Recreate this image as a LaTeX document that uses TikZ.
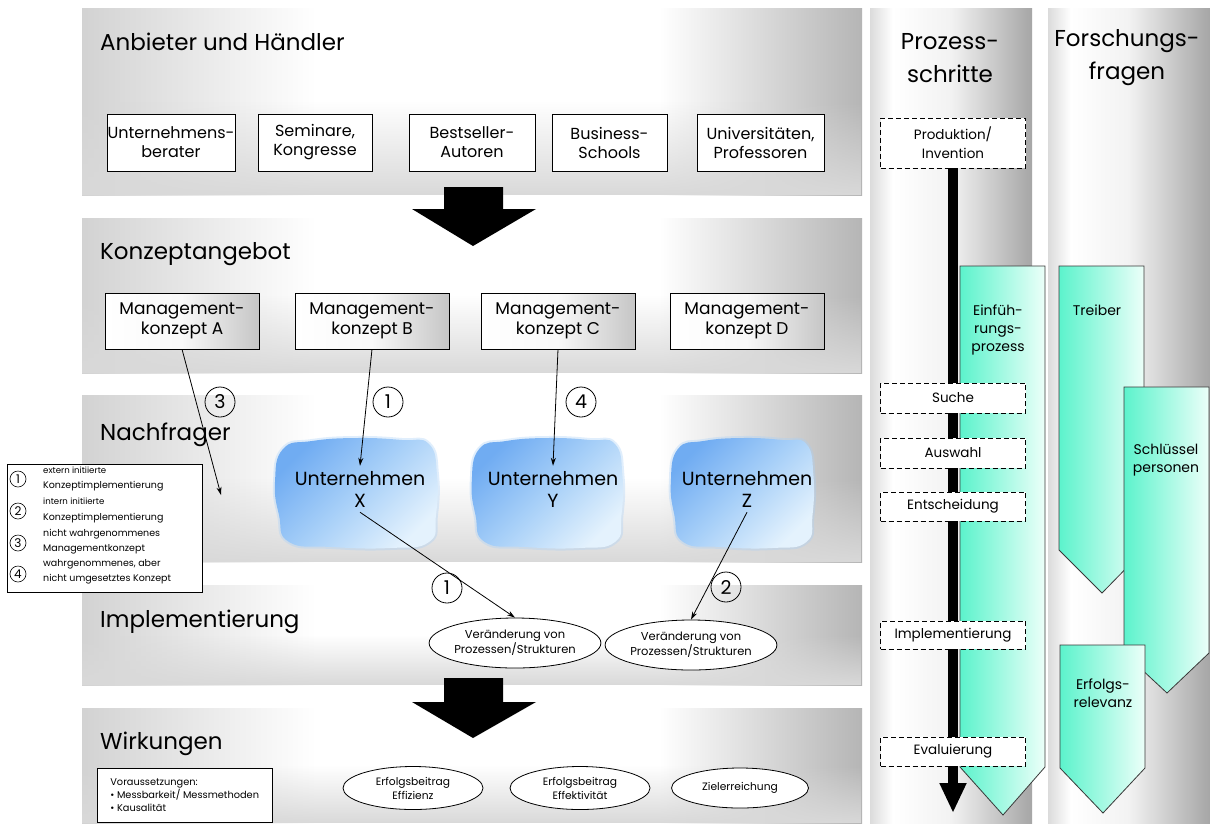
\documentclass[tikz,border=0pt]{standalone}
\usepackage{fontspec}
\setmainfont{Poppins}
\usetikzlibrary{arrows.meta,shapes.geometric,fadings}

\newcommand\fsz[2]{\fontsize{#1}{#2}\selectfont}

\definecolor{cloudA}{RGB}{112,172,242}
\definecolor{cloudM}{RGB}{168,208,248}
\definecolor{cloudB}{RGB}{228,242,253}
\definecolor{mintA}{RGB}{92,243,204}
\definecolor{mintB}{RGB}{236,255,249}

% grey bands: light grey left, white highlight, darker grey right
\pgfdeclarehorizontalshading{bandshade}{100bp}{color(0bp)=(gray!35); color(25bp)=(gray!35); color(40bp)=(white); color(62bp)=(white); color(75bp)=(gray!58); color(100bp)=(gray!58)}
% the two columns on the right
\pgfdeclarehorizontalshading{colshade}{100bp}{color(0bp)=(gray!28); color(25bp)=(gray!28); color(32bp)=(white); color(50bp)=(white!90!gray); color(75bp)=(gray!70); color(100bp)=(gray!70)}

\tikzset{
  bandtitle/.style={anchor=base west, inner sep=0pt, font=\fsz{23}{28}},
  coltitle/.style={align=center, inner sep=0pt, font=\fsz{23}{33}},
  provbox/.style={draw, fill=white, align=center, inner sep=0pt, minimum height=57pt, font=\fsz{16}{19}},
  mkbox/.style={draw, left color=white, right color=gray!45, middle color=white!95!gray, align=center, inner sep=0pt, minimum width=154pt, minimum height=56pt, font=\fsz{17}{20}},
  firm/.style={align=center, inner sep=5pt, font=\fsz{19}{22}},
  numc/.style={circle, draw, inner sep=0pt, minimum size=30pt, font=\fsz{19}{19}, line width=0.8pt},
  lnum/.style={circle, draw, inner sep=0pt, minimum size=16pt, font=\fsz{12}{12}, line width=0.6pt},
  ltext/.style={anchor=west, align=left, inner sep=0pt, font=\fsz{9.5}{15.5}},
  ell/.style={ellipse, draw, fill=white, inner sep=0pt, align=center, line width=0.8pt},
  stepbox/.style={draw, dashed, dash pattern=on 5pt off 3pt, fill=white, align=center, inner sep=0pt, minimum width=145pt, font=\fsz{13.5}{19}},
  chevron/.style={draw=gray!45!black, line width=0.8pt, left color=mintA, right color=mintB},
  chevtext/.style={align=center, inner sep=0pt, font=\fsz{14}{18}},
  conn/.style={draw, line width=0.8pt, -{Stealth[length=8pt,width=5pt]}},
}

\begin{document}
\begin{tikzpicture}[x=1pt,y=-1pt]
\useasboundingbox (0,0) rectangle (1210,823);
\fill[white] (0,0) rectangle (1210,823);

% ---- horizontal bands ----
\foreach \ya/\yb in {8/195, 218/373, 395/562, 585/685, 708/823} {
  \shade[shading=bandshade] (82,\ya) rectangle (862,\yb);
  \fill[gray!30, path fading=north] (82,{\ya+0.5*(\yb-\ya)}) rectangle (862,\yb);
}

% ---- right-hand columns ----
\shade[shading=colshade] (870,8) rectangle (1032,823);
\shade[shading=colshade] (1048,8) rectangle (1210,823);

% ---- big block arrows between the bands ----
\fill (444,187) -- (503,187) -- (503,209) -- (536,209) -- (473,246) -- (412,209) -- (444,209) -- cycle;
\fill (444,678) -- (503,678) -- (503,702) -- (536,702) -- (473,738) -- (412,702) -- (444,702) -- cycle;

% ---- band titles ----
\node[bandtitle] (t1) at (100,50) {Anbieter und Händler};
\node[bandtitle] (t2) at (100,259) {Konzeptangebot};
\node[bandtitle] (t3) at (100,440) {Nachfrager};
\node[bandtitle] (t4) at (100,627) {Implementierung};
\node[bandtitle] (t5) at (100,749) {Wirkungen};

% ---- suppliers ----
\node[provbox, minimum width=128pt] (p1) at (171,142.5) {Unternehmens-\\berater};
\node[provbox, minimum width=114pt] (p2) at (315,142.5) {Seminare,\\Kongresse};
\node[provbox, minimum width=126pt] (p3) at (472,142.5) {Bestseller-\\Autoren};
\node[provbox, minimum width=115pt] (p4) at (609.5,142.5) {Business-\\Schools};
\node[provbox, minimum width=127pt] (p5) at (760.5,142.5) {Universitäten,\\Professoren};

% ---- management concepts ----
\node[mkbox] (mkA) at (182,321) {Management-\\konzept A};
\node[mkbox] (mkB) at (372,321) {Management-\\konzept B};
\node[mkbox] (mkC) at (558,321) {Management-\\konzept C};
\node[mkbox] (mkD) at (747,321) {Management-\\konzept D};

% ---- companies (blue blobs with a soft rim) ----
\foreach \cx/\sx in {357/1, 548/0.93, 743/0.88} {
  \begin{scope}[shift={(\cx,493)}, xscale=\sx]
    \draw[cloudM, line width=4pt, draw opacity=0.35]
      plot[smooth cycle, tension=0.8] coordinates {(-45,-52) (0,-55) (45,-53) (72,-49) (80,-18) (79,22) (72,49) (33,55) (-25,54) (-68,49) (-78,22) (-82,-11) (-74,-44)};
    \shade[top color=cloudA, bottom color=cloudB, middle color=cloudM, shading angle=45]
      plot[smooth cycle, tension=0.8] coordinates {(-45,-52) (0,-55) (45,-53) (72,-49) (80,-18) (79,22) (72,49) (33,55) (-25,54) (-68,49) (-78,22) (-82,-11) (-74,-44)};
  \end{scope}
}
\node[firm] (cX) at (360,489) {Unternehmen\\X};
\node[firm] (cY) at (553,489) {Unternehmen\\Y};
\node[firm] (cZ) at (747,489) {Unternehmen\\Z};

% ---- implementation ----
\node[ell, minimum width=143pt, minimum height=50pt, font=\fsz{11.5}{15}] (e1) at (515,643) {Veränderung von\\Prozessen/Strukturen};
\node[ell, minimum width=148pt, minimum height=50pt, font=\fsz{11.5}{15}] (e2) at (691,645) {Veränderung von\\Prozessen/Strukturen};

% ---- effects ----
\node[ell, minimum width=140pt, minimum height=43pt, font=\fsz{10.7}{14}] (e3) at (413,788) {Erfolgsbeitrag\\Effizienz};
\node[ell, minimum width=140pt, minimum height=43pt, font=\fsz{10.7}{14}] (e4) at (580,788) {Erfolgsbeitrag\\Effektivität};
\node[ell, minimum width=137pt, minimum height=40pt, font=\fsz{10.7}{14}] (e5) at (740,788) {Zielerreichung};

\node[draw, fill=white, anchor=north west, minimum width=175pt, minimum height=54pt, inner xsep=7pt, inner ysep=0pt, align=left, font=\fsz{9.8}{13}] (vor) at (97,768)
  {Voraussetzungen:\\\textbullet\ Messbarkeit/ Messmethoden\\\textbullet\ Kausalität};

% ---- connectors ----
\coordinate (n3) at (221,495);
\draw[conn] (mkA.south) -- (n3);
\draw[conn] (mkB.south) -- (cX.north);
\draw[conn] (mkC.south) -- (cY.north);
\draw[conn] (cX.south) -- (e1.north);
\draw[conn] (cZ.south) -- (e2.north);

\node[numc] (k3) at (220,402) {3};
\node[numc] (k1) at (388,402) {1};
\node[numc] (k4) at (581,402) {4};
\node[numc] (k1b) at (447,588) {1};
\node[numc] (k2) at (726,587) {2};

% ---- legend ----
\node[draw, fill=white, anchor=north west, minimum width=195pt, minimum height=128pt, inner sep=0pt] (leg) at (7,464) {};
\node[lnum] (l1) at (18,479) {1};
\node[lnum] (l2) at (18,511) {2};
\node[lnum] (l3) at (18,543) {3};
\node[lnum] (l4) at (18,574) {4};
\node[ltext] (lt1) at (43,479) {{\fsz{8.6}{15.5}extern initiierte}\\Konzeptimplementierung};
\node[ltext] (lt2) at (43,510.5) {{\fsz{8.6}{15.5}intern initiierte}\\Konzeptimplementierung};
\node[ltext] (lt3) at (43,541.5) {nicht wahrgenommenes\\Managementkonzept};
\node[ltext] (lt4) at (43,572) {wahrgenommenes, aber\\nicht umgesetztes Konzept};

% ---- process steps column ----
\node[coltitle] (ct1) at (950,58) {Prozess-\\schritte};
\node[coltitle] (ct2) at (1127,58) {Forschungs-\\fragen};

\node[stepbox, minimum height=50pt] (prod) at (953,143) {Produktion/\\Invention};
\coordinate (pend) at (953,813);
\draw[line width=10pt, -{Triangle[length=30pt,width=25pt]}] (prod.south) -- (pend);

\path[chevron] (960,266) -- (1045,266) -- (1045,767) -- (1003,815) -- (960,767) -- cycle;
\node[chevtext] (ch1) at (998,330) {Einfüh-\\rungs-\\prozess};

\node[stepbox, minimum height=30pt] (s1) at (953,398) {Suche};
\node[stepbox, minimum height=30pt] (s2) at (953,453) {Auswahl};
\node[stepbox, minimum height=29pt] (s3) at (953,506.5) {Entscheidung};
\node[stepbox, minimum height=28pt] (s4) at (953,635) {Implementierung};
\node[stepbox, minimum height=29pt] (s5) at (953,751.5) {Evaluierung};

% ---- research questions column ----
\path[chevron] (1059,266) -- (1144,266) -- (1144,550) -- (1102,593) -- (1059,550) -- cycle;
\node[chevtext] (ch2) at (1097,310) {Treiber};
\path[chevron] (1124,387) -- (1209,387) -- (1209,653) -- (1167,693) -- (1124,653) -- cycle;
\node[chevtext] (ch3) at (1166,460) {Schlüssel\\personen};
\path[chevron] (1060,645) -- (1145,645) -- (1145,768) -- (1103,813) -- (1060,768) -- cycle;
\node[chevtext] (ch4) at (1103,693) {Erfolgs-\\relevanz};

\end{tikzpicture}
\end{document}
